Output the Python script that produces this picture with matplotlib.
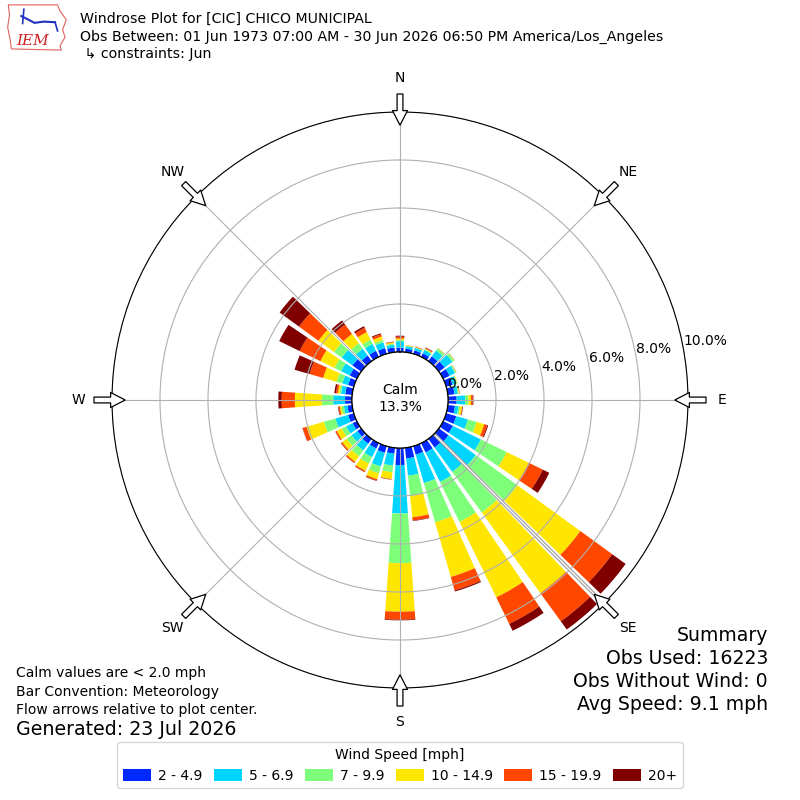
import numpy as np
import matplotlib
matplotlib.use("Agg")
import matplotlib.pyplot as plt
from matplotlib import patheffects
from matplotlib.patches import Patch, Polygon

# wind directions (deg, meteorological) and speed bins
directions = np.arange(0, 360, 10)
speed_labels = ["2 - 4.9", "5 - 6.9", "7 - 9.9", "10 - 14.9", "15 - 19.9", "20+"]

spd_2_5 = [0.18, 0.15, 0.15, 0.17, 0.25, 0.30, 0.30, 0.28, 0.28, 0.36, 0.30, 0.44,
           0.45, 0.50, 0.45, 0.43, 0.37, 0.45, 0.71, 0.25, 0.29, 0.25, 0.25, 0.20,
           0.20, 0.25, 0.20, 0.29, 0.29, 0.25, 0.33, 0.45, 0.29, 0.28, 0.25, 0.20]
spd_5_7 = [0.27, 0.10, 0.11, 0.15, 0.30, 0.40, 0.25, 0.17, 0.14, 0.35, 0.15, 0.50,
           1.30, 1.40, 1.25, 1.37, 1.23, 0.72, 2.02, 0.50, 0.59, 0.40, 0.35, 0.30,
           0.30, 0.55, 0.15, 0.49, 0.18, 0.25, 0.40, 0.55, 0.35, 0.32, 0.25, 0.12]
spd_7_10 = [0.05, 0.02, 0.02, 0.04, 0.11, 0.10, 0.05, 0.03, 0.04, 0.14, 0.07, 0.38,
            1.20, 2.15, 2.10, 1.85, 1.70, 0.85, 2.07, 0.28, 0.30, 0.30, 0.30, 0.25,
            0.20, 0.50, 0.10, 0.48, 0.06, 0.25, 0.31, 0.40, 0.28, 0.20, 0.10, 0.05]
spd_10_15 = [0.06, 0.02, 0.02, 0.03, 0.01, 0.01, 0.01, 0.02, 0.02, 0.11, 0.08, 0.33,
             1.02, 3.24, 4.15, 3.50, 2.37, 0.89, 2.02, 0.28, 0.25, 0.33, 0.28, 0.23,
             0.23, 0.75, 0.07, 1.12, 0.07, 0.58, 0.65, 0.80, 0.48, 0.35, 0.15, 0.05]
spd_15_20 = [0.08, 0.01, 0.01, 0.03, 0.01, 0.01, 0.01, 0.00, 0.01, 0.07, 0.02, 0.13,
             0.65, 1.64, 1.45, 1.23, 0.58, 0.14, 0.33, 0.02, 0.06, 0.06, 0.06, 0.06,
             0.06, 0.17, 0.06, 0.55, 0.08, 0.59, 0.96, 1.00, 0.49, 0.20, 0.10, 0.02]
spd_20_up = [0.04, 0.00, 0.01, 0.02, 0.00, 0.00, 0.00, 0.00, 0.01, 0.03, 0.02, 0.04,
             0.30, 0.69, 0.42, 0.32, 0.05, 0.02, 0.03, 0.01, 0.02, 0.01, 0.01, 0.01,
             0.01, 0.01, 0.02, 0.14, 0.07, 0.65, 0.95, 1.00, 0.21, 0.07, 0.04, 0.01]
series = [spd_2_5, spd_5_7, spd_7_10, spd_10_15, spd_15_20, spd_20_up]

calm_pct = 13.3
rticks = [0, 2, 4, 6, 8, 10]
compass = ["N", "NE", "E", "SE", "S", "SW", "W", "NW"]

fig = plt.figure(figsize=(8, 8), dpi=100)
ax = fig.add_axes([0.14, 0.14, 0.72, 0.72], projection="polar")
ax.set_theta_zero_location("N")
ax.set_theta_direction(-1)
ax.set_rorigin(-2)

colors = plt.cm.jet(np.linspace(0, 1, 7)[1:])
theta = np.radians(directions)
bottom = np.zeros(len(directions))
handles = []
for vals, c, lab in zip(series, colors, speed_labels):
    ax.bar(theta, vals, width=np.radians(8), bottom=bottom, color=c,
           linewidth=0, zorder=1)
    bottom += np.array(vals)
    handles.append(Patch(facecolor=c, label=lab))

ax.set_ylim(0, 10)
ax.set_yticks(rticks)
ax.set_yticklabels(["%.1f%%" % t for t in rticks], fontsize=10)
ax.set_rlabel_position(79.5)
ax.set_thetagrids(range(0, 360, 45), compass, fontsize=10)
ax.tick_params(axis="x", pad=14)
ax.grid(color="#b0b0b0", lw=0.8)

# calm circle
tt = np.linspace(0, 2 * np.pi, 300)
ax.plot(tt, np.zeros_like(tt), color="black", lw=1, zorder=4)

# SE shaft
ax.plot([np.radians(135)] * 2, [0.1, 9.5], color="white", lw=1.0, zorder=3,
        path_effects=[patheffects.Stroke(linewidth=2.6, foreground="#999999"),
                      patheffects.Normal()])

# flow arrows
for ang in range(0, 360, 45):
    ax.annotate("", xy=(np.radians(ang), 9.45), xytext=(np.radians(ang), 10.75),
                arrowprops=dict(arrowstyle="simple,head_length=0.7,head_width=0.72,tail_width=0.28",
                                fc="white", ec="black", lw=0.9,
                                shrinkA=0, shrinkB=0, mutation_scale=15),
                annotation_clip=False, zorder=5)

fig.text(0.5, 0.5015, "Calm\n%.1f%%" % calm_pct, ha="center", va="center",
         fontsize=10, linespacing=1.25)

# header
fig.text(0.1, 0.977, "Windrose Plot for [CIC] CHICO MUNICIPAL", fontsize=10.15, va="center")
fig.text(0.1, 0.954, "Obs Between: 01 Jun 1973 07:00 AM - 30 Jun 2026 06:50 PM America/Los_Angeles",
         fontsize=10.15, va="center")
fig.text(0.1, 0.932, " \u21b3 constraints: Jun", fontsize=10.15, va="center")

# logo
lax = fig.add_axes([0.008, 0.935, 0.078, 0.062])
lax.set_xlim(0, 10)
lax.set_ylim(0, 8)
lax.axis("off")
lax.add_patch(Polygon([[0.3, 7.6], [8.2, 7.6], [8.6, 6.6], [9.6, 5.2], [9.0, 3.6],
                       [9.4, 2.4], [8.6, 1.0], [8.8, 0.3], [0.8, 0.5], [0.6, 2.0],
                       [0.2, 4.0], [0.5, 6.0]],
                      closed=True, fill=False, ec="#e06060", lw=0.8))
lax.plot([2.4, 4.5, 6.0, 7.8], [5.8, 4.7, 4.9, 4.8], color="#2030c0", lw=1.5)
lax.plot([2.8, 2.6], [6.9, 4.6], color="#2030c0", lw=1.2)
lax.plot([7.8, 8.2], [4.8, 3.4], color="#2030c0", lw=1.2)
lax.text(4.2, 1.7, "IEM", color="#d02020", fontsize=11, family="DejaVu Serif",
         style="italic", ha="center", va="center")

# notes
fig.text(0.02, 0.159, "Calm values are < 2.0 mph", fontsize=10, va="center")
fig.text(0.02, 0.135, "Bar Convention: Meteorology", fontsize=10, va="center")
fig.text(0.02, 0.112, "Flow arrows relative to plot center.", fontsize=10, va="center")
fig.text(0.02, 0.088, "Generated: 23 Jul 2026", fontsize=13.7, va="center")

fig.text(0.96, 0.206, "Summary", fontsize=13.6, ha="right", va="center")
fig.text(0.96, 0.177, "Obs Used: 16223", fontsize=13.6, ha="right", va="center")
fig.text(0.96, 0.148, "Obs Without Wind: 0", fontsize=13.6, ha="right", va="center")
fig.text(0.96, 0.119, "Avg Speed: 9.1 mph", fontsize=13.6, ha="right", va="center")

fig.legend(handles=handles, loc="lower center", bbox_to_anchor=(0.5, 0.006), ncol=6,
           title="Wind Speed [mph]", fontsize=10, title_fontsize=10,
           handlelength=2.0, handleheight=0.9, handletextpad=0.5, columnspacing=0.85)

fig.savefig("out.png", dpi=100)
